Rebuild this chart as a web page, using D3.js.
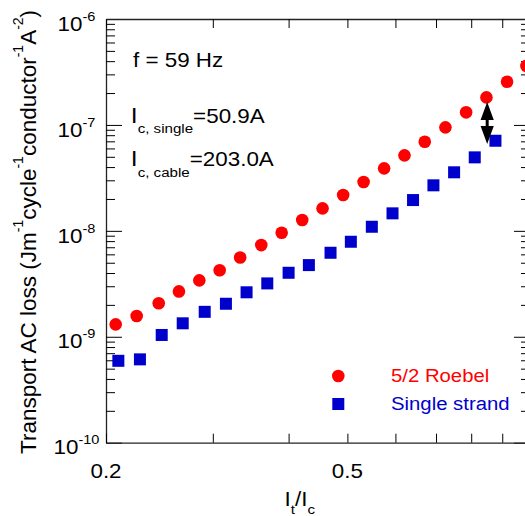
<!DOCTYPE html>
<html>
<head>
<meta charset="utf-8">
<script src="https://cdn.jsdelivr.net/npm/d3@7"></script>
<style>
  body { margin: 0; background: #fff; }
  svg { display: block; font-family: "Liberation Sans", Arial, Helvetica, sans-serif; }
</style>
</head>
<body>
<div class="chart"></div>
<script>
// I_t / I_c and transport AC loss, 5/2 Roebel cable
const roebelRatio = [0.2075, 0.2247, 0.2443, 0.2638, 0.2850, 0.3079, 0.3328, 0.3606, 0.3896, 0.4212,
                     0.4550, 0.4920, 0.5317, 0.5748, 0.6210, 0.6707, 0.7254, 0.7847, 0.8476, 0.9166, 0.9866];
const roebelLoss = [1.31e-9, 1.57e-9, 2.07e-9, 2.68e-9, 3.41e-9, 4.24e-9, 5.60e-9, 7.34e-9, 9.60e-9, 1.265e-8,
                    1.63e-8, 2.18e-8, 2.89e-8, 3.89e-8, 5.16e-8, 6.94e-8, 9.49e-8, 1.315e-7, 1.82e-7, 2.56e-7, 3.60e-7];

// single strand
const singleRatio = [0.2096, 0.2275, 0.2471, 0.2676, 0.2909, 0.3153, 0.3410, 0.3689, 0.4000, 0.4320,
                     0.4690, 0.5066, 0.5486, 0.5934, 0.6415, 0.6931, 0.7497, 0.8108, 0.8771];
const singleLoss = [5.93e-10, 6.12e-10, 1.04e-9, 1.34e-9, 1.72e-9, 2.05e-9, 2.63e-9, 3.19e-9, 4.02e-9, 4.75e-9,
                    6.21e-9, 7.89e-9, 1.093e-8, 1.463e-8, 1.953e-8, 2.69e-8, 3.57e-8, 4.94e-8, 7.09e-8];

const seriesNames = ['5/2 Roebel', 'Single strand'];
const seriesColors = ['#ff0000', '#0000cc'];

const xTicks = [0.2, 0.3, 0.4, 0.5, 0.6, 0.7, 0.8, 0.9, 1.0];
const xTickLabels = ['0.2', '0.5'];
const yDecades = [-10, -9, -8, -7, -6];

// arrow between the two curves
const arrowRatio = 0.85;
const arrowFrom = 1.645e-7;
const arrowTo = 6.6e-8;

var margin = { top: 19, left: 106 };
var width = 424;
var height = 423.7;
var stretch = 1.12;   // text in the original is a bit wide

let root = d3.select('.chart')
  .append('svg')
  .attr('width', 525)
  .attr('height', 516);

let svg = root.append('g')
  .attr('transform', `translate(${margin.left},${margin.top})`);

var xScale = d3.scaleLog().domain([0.2, 1.0]).range([0, width]);
var yScale = d3.scaleLog().domain([1e-10, 1e-6]).range([height, 0]);

const isDecade = d => Math.abs(Math.log10(d) - Math.round(Math.log10(d))) < 1e-6;

// rich text helper: parts = [[text, 'sup'|'sub'|null, size]]
function richText(parent, x, y, parts, size, opts) {
  opts = opts || {};
  let g = parent.append('g')
    .attr('transform', `translate(${x},${y}) scale(${opts.sx || stretch},1)` + (opts.rotate ? ` rotate(${opts.rotate})` : ''));
  let t = g.append('text')
    .attr('font-size', size)
    .attr('fill', opts.color || '#000')
    .attr('text-anchor', opts.anchor || 'start');
  let shift = 0;
  parts.forEach(p => {
    let want = p[1] === 'sup' ? -(opts.supShift || 10) : p[1] === 'sub' ? (opts.subShift || 10.6) : 0;
    t.append('tspan')
      .attr('dy', want - shift)
      .attr('font-size', p[2] || size)
      .text(p[0]);
    shift = want;
  });
  return g;
}

// y axes (ticks pointing inward)
let yTickVals = yScale.ticks();
let yLeft = svg.append('g')
  .call(d3.axisRight(yScale).tickValues(yTickVals).tickFormat('').tickSizeOuter(0));
yLeft.selectAll('.tick line').attr('x2', d => isDecade(d) ? 16 : 9);

let yRight = svg.append('g')
  .attr('transform', `translate(${width},0)`)
  .call(d3.axisLeft(yScale).tickValues(yTickVals).tickFormat('').tickSizeOuter(0));
yRight.selectAll('.tick line').attr('x2', d => isDecade(d) ? -16 : -9);

// x axes
let xBottom = svg.append('g')
  .attr('transform', `translate(0,${height})`)
  .call(d3.axisTop(xScale).tickValues(xTicks).tickFormat('').tickSize(9).tickSizeOuter(0));
let xTop = svg.append('g')
  .call(d3.axisBottom(xScale).tickValues(xTicks).tickFormat('').tickSize(9).tickSizeOuter(0));

svg.selectAll('.domain').attr('stroke', '#222').attr('stroke-width', 1.3);
svg.selectAll('.tick line').attr('stroke', '#000').attr('stroke-width', 1);

// tick labels
yDecades.forEach(e => {
  richText(svg, 76.5 - margin.left, yScale(Math.pow(10, e)) + 11.7,
    [['10'], ['' + e, 'sup', 13]], 20, { anchor: 'middle' });
});
xTickLabels.forEach(s => {
  richText(svg, xScale(+s), height + 35.5, [[s]], 20, { anchor: 'middle' });
});

// axis titles
richText(root, 284.6, 506, [['I'], ['t', 'sub', 13.5], ['/I'], ['c', 'sub', 13.5]], 20, { subShift: 8 });
richText(root, 36, 454,
  [['Transport AC loss (Jm'], ['-1', 'sup', 14], ['cycle'], ['-1', 'sup', 14], ['conductor'],
   ['-1', 'sup', 14], ['A'], ['-2', 'sup', 14], [')']],
  22.5, { sx: 1, rotate: -90, supShift: 13.5 });

// annotations
richText(root, 133, 66.7, [['f = 59 Hz']], 20);
richText(root, 130.8, 122.5, [['I', null, 22], ['c, single', 'sub', 13.5], ['=50.9A']], 20);
richText(root, 130.8, 166, [['I', null, 22], ['c, cable', 'sub', 13.5], ['=203.0A']], 20);

// data
svg.append('g').selectAll('circle')
  .data(roebelRatio.map((r, i) => [r, roebelLoss[i]]))
  .enter()
  .append('circle')
  .attr('cx', d => xScale(d[0]))
  .attr('cy', d => yScale(d[1]))
  .attr('r', 6.3)
  .attr('fill', seriesColors[0]);

svg.append('g').selectAll('rect')
  .data(singleRatio.map((r, i) => [r, singleLoss[i]]))
  .enter()
  .append('rect')
  .attr('x', d => xScale(d[0]) - 6)
  .attr('y', d => yScale(d[1]) - 6)
  .attr('width', 12)
  .attr('height', 12)
  .attr('fill', seriesColors[1]);

// double arrow
let ax = xScale(arrowRatio), aTop = yScale(arrowFrom), aBot = yScale(arrowTo);
let head = 18, hw = 6.6;
svg.append('line')
  .attr('x1', ax).attr('x2', ax)
  .attr('y1', aTop + head - 1).attr('y2', aBot - head + 1)
  .attr('stroke', '#000').attr('stroke-width', 3);
svg.append('path')
  .attr('d', `M${ax},${aTop}L${ax + hw},${aTop + head}L${ax - hw},${aTop + head}Z` +
             `M${ax},${aBot}L${ax + hw},${aBot - head}L${ax - hw},${aBot - head}Z`)
  .attr('fill', '#000');

// legend
let legend = root.append('g');
legend.append('circle').attr('cx', 338.3).attr('cy', 376).attr('r', 6.3).attr('fill', seriesColors[0]);
legend.append('rect').attr('x', 332.3).attr('y', 398).attr('width', 12).attr('height', 12).attr('fill', seriesColors[1]);
richText(legend, 391, 381.7, [[seriesNames[0]]], 19, { sx: 1.07, color: seriesColors[0] });
richText(legend, 391, 410.3, [[seriesNames[1]]], 19, { sx: 1.07, color: seriesColors[1] });
</script>
</body>
</html>
